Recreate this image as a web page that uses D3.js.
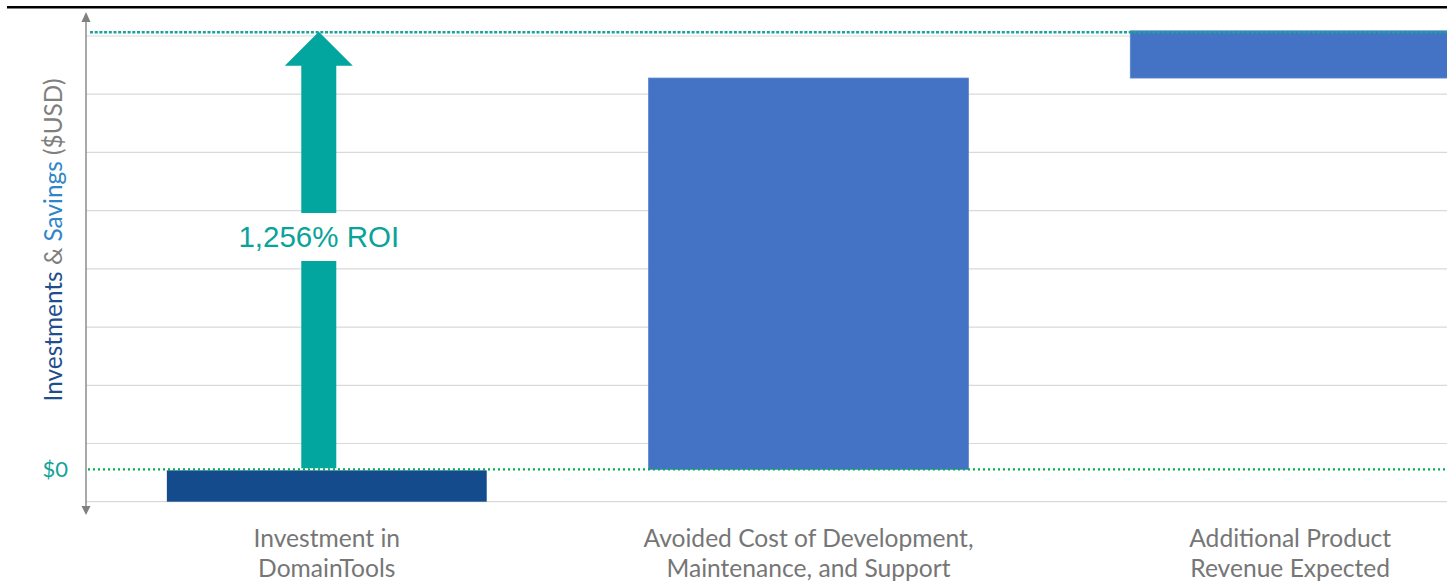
<!DOCTYPE html>
<html>
<head>
	<title>Investments & Savings</title>
	<script src="https://d3js.org/d3.v7.min.js"></script>
	<style>
		body{
			margin: 0;
			background: #fff;
		}
		svg{
			display: block;
		}
		.cat-label{
			font-family: Lato, 'Open Sans', sans-serif;
			font-size: 24.6px;
			fill: #767676;
		}
	</style>
</head>
<body>
	<script>
		// values in $K (no axis numbers shown)
		var categories = ['Investment in|DomainTools', 'Avoided Cost of Development,|Maintenance, and Support', 'Additional Product|Revenue Expected']
		var values = [-100, 1210, 146]
		var gridValues = [-100, 80, 260, 440, 620, 800, 980, 1160, 1340]
		var zeroLabel = '$0'

		var width = 1453
		var height = 586
		var plotLeft = 86
		var plotRight = 1447

		const svg = d3.select('body').append('svg')
					  .attr('width', width)
					  .attr('height', height)

		svg.append('defs').append('clipPath')
		   .attr('id', 'plotClip')
		   .append('rect')
		   .attr('x', plotLeft)
		   .attr('y', 0)
		   .attr('width', plotRight - plotLeft)
		   .attr('height', height)

		const yScale = d3.scaleLinear().domain([-100, 1340]).range([501.7, 36])
		const xScale = d3.scaleBand().domain(categories)
									 .range([5, 1612])
									 .paddingInner(0.336)
									 .paddingOuter(0.336)

		// waterfall bases: investment hangs from zero, savings stack up
		var bars = []
		var running = 0
		categories.forEach(function(c, i){
			if(values[i] < 0){
				bars.push({cat: c, y0: 0, y1: values[i], invest: true})
			} else {
				bars.push({cat: c, y0: running, y1: running + values[i], invest: false})
				running += values[i]
			}
		})
		var investment = -values[0]
		var total = running
		var roi = (total - investment) / investment

		// top frame line
		svg.append('line')
		   .attr('x1', 7).attr('x2', 1447)
		   .attr('y1', 7.3).attr('y2', 7.3)
		   .attr('stroke', '#000')
		   .attr('stroke-width', 2.5)

		// gridlines
		svg.append('g').selectAll('line').data(gridValues).enter()
		   .append('line')
		   .attr('x1', plotLeft).attr('x2', plotRight)
		   .attr('y1', d=> yScale(d)).attr('y2', d=> yScale(d))
		   .attr('stroke', '#d9d9d9')
		   .attr('stroke-width', 1.2)

		// bars
		svg.append('g').attr('clip-path', 'url(#plotClip)')
		   .selectAll('rect').data(bars).enter()
		   .append('rect')
		   .attr('x', d=> xScale(d.cat))
		   .attr('width', xScale.bandwidth())
		   .attr('y', d=> yScale(Math.max(d.y0, d.y1)) + (d.invest ? 1 : 0))
		   .attr('height', d=> Math.abs(yScale(d.y0) - yScale(d.y1)) - (d.invest ? 1 : 0))
		   .attr('fill', d=> d.invest ? '#134b8c' : '#4472c4')
		   .attr('stroke', d=> d.invest ? 'none' : '#5b85cf')
		   .attr('stroke-width', 0.8)

		// total line
		svg.append('line')
		   .attr('x1', plotLeft + 4).attr('x2', plotRight)
		   .attr('y1', yScale(total) + 1.5).attr('y2', yScale(total) + 1.5)
		   .attr('stroke', '#1ba39b')
		   .attr('stroke-width', 2.5)
		   .attr('stroke-dasharray', '3,1.7')

		// zero line
		svg.append('line')
		   .attr('x1', plotLeft + 2).attr('x2', plotRight)
		   .attr('y1', yScale(0)).attr('y2', yScale(0))
		   .attr('stroke', '#00b050')
		   .attr('stroke-width', 2.2)
		   .attr('stroke-dasharray', '2,3')

		// ROI arrow
		var ax = xScale(categories[0]) + xScale.bandwidth() / 2 - 8
		var tipY = yScale(total) + 1
		var headY = tipY + 34
		var baseY = yScale(0) - 1
		var shaft = 17.5
		var head = 34
		svg.append('path')
		   .attr('d', 'M' + ax + ',' + tipY +
		              'L' + (ax + head) + ',' + headY +
		              'L' + (ax + shaft) + ',' + headY +
		              'L' + (ax + shaft) + ',' + baseY +
		              'L' + (ax - shaft) + ',' + baseY +
		              'L' + (ax - shaft) + ',' + headY +
		              'L' + (ax - head) + ',' + headY + 'Z')
		   .attr('fill', '#02a69e')
		svg.append('rect')
		   .attr('x', ax - 90).attr('width', 180)
		   .attr('y', 213).attr('height', 48)
		   .attr('fill', '#fff')
		svg.append('text')
		   .attr('x', ax)
		   .attr('y', 247)
		   .attr('text-anchor', 'middle')
		   .style('font-family', "'Liberation Sans', Arial, sans-serif")
		   .style('font-size', '29.5px')
		   .style('fill', '#0aa39b')
		   .text(d3.format(',.0%')(roi) + ' ROI')

		// y axis with arrows at both ends
		svg.append('line')
		   .attr('x1', plotLeft).attr('x2', plotLeft)
		   .attr('y1', 18).attr('y2', 510)
		   .attr('stroke', '#8c8c8c')
		   .attr('stroke-width', 1.5)
		svg.append('path')
		   .attr('d', 'M' + plotLeft + ',12L' + (plotLeft + 4.5) + ',22L' + (plotLeft - 4.5) + ',22Z')
		   .attr('fill', '#808080')
		svg.append('path')
		   .attr('d', 'M' + plotLeft + ',515L' + (plotLeft + 4.5) + ',506L' + (plotLeft - 4.5) + ',506Z')
		   .attr('fill', '#808080')

		svg.append('text')
		   .attr('x', 68)
		   .attr('y', yScale(0) + 8)
		   .attr('text-anchor', 'end')
		   .style('font-family', 'Lato, sans-serif')
		   .style('font-size', '22px')
		   .style('fill', '#12a39b')
		   .text(zeroLabel)

		// y axis title
		const yTitle = svg.append('text')
		   .attr('transform', 'translate(62, 240) rotate(-90)')
		   .attr('text-anchor', 'middle')
		   .style('font-family', 'Lato, sans-serif')
		   .style('font-size', '24.4px')
		yTitle.append('tspan').style('fill', '#1f4e8c').text('Investments')
		yTitle.append('tspan').style('fill', '#7f7f7f').text(' & ')
		yTitle.append('tspan').style('fill', '#2e86c8').text('Savings')
		yTitle.append('tspan').style('fill', '#7f7f7f').text(' ($USD)')

		// category labels
		const labels = svg.append('g').selectAll('text').data(categories).enter()
		   .append('text')
		   .attr('class', 'cat-label')
		   .attr('text-anchor', 'middle')
		labels.selectAll('tspan').data(d=> d.split('|').map(t=> ({t: t, c: d}))).enter()
		   .append('tspan')
		   .attr('x', d=> xScale(d.c) + xScale.bandwidth() / 2)
		   .attr('y', (d, i)=> 547 + i * 30)
		   .text(d=> d.t)
	</script>
</body>
</html>
